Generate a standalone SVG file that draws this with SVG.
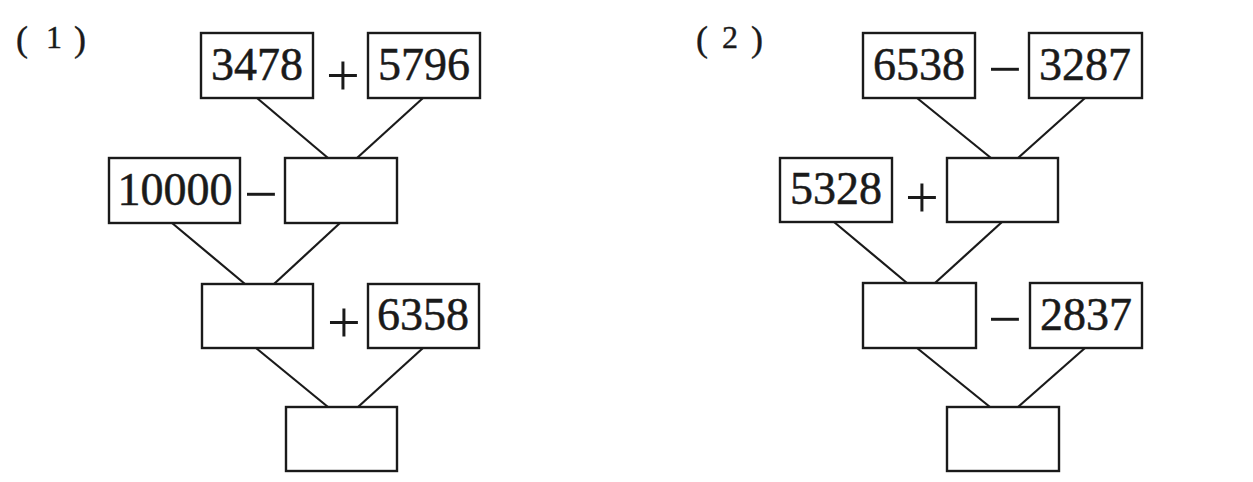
<svg xmlns="http://www.w3.org/2000/svg" width="1253" height="482" viewBox="0 0 1253 482">
<style>
.box{fill:none;stroke:#1a1a1a;stroke-width:2.4}
.num{font-family:"Liberation Serif","Times New Roman",serif;font-size:46px;fill:#1a1a1a;stroke:#1a1a1a;stroke-width:0.5;text-anchor:middle}
.op{font-family:"Liberation Serif","Times New Roman",serif;font-size:60px;fill:#1a1a1a;text-anchor:middle}
.lbl{font-family:"Liberation Serif","Times New Roman",serif;font-size:32px;fill:#1a1a1a;stroke:#1a1a1a;stroke-width:0.4}
.par{font-size:36px}
.con line{stroke:#1a1a1a;stroke-width:2.2}
</style>
<rect width="1253" height="482" fill="#fff"/>
<text class="lbl"><tspan class="par" x="16" y="51">(</tspan><tspan x="46" y="48">1</tspan><tspan class="par" x="74" y="51">)</tspan></text>
<text class="lbl"><tspan class="par" x="696" y="51">(</tspan><tspan x="722" y="48">2</tspan><tspan class="par" x="751" y="51">)</tspan></text>
<g id="connectors" class="con">
<line x1="257" y1="98" x2="328" y2="158"/>
<line x1="423" y1="98" x2="357" y2="158"/>
<line x1="172" y1="223" x2="245" y2="284"/>
<line x1="340" y1="223" x2="274" y2="284"/>
<line x1="256" y1="348" x2="328" y2="407"/>
<line x1="423" y1="348" x2="358" y2="407"/>
<line x1="917" y1="98" x2="991" y2="158"/>
<line x1="1085" y1="98" x2="1018" y2="158"/>
<line x1="834" y1="222" x2="907" y2="283"/>
<line x1="1002" y1="222" x2="935" y2="283"/>
<line x1="917" y1="348" x2="990" y2="407"/>
<line x1="1085" y1="348" x2="1018" y2="407"/>
</g>
<g id="n1a"><rect class="box" x="201" y="33" width="112" height="65"/><text class="num" x="257" y="80">3478</text></g>
<g id="op1a"><text class="op" x="343" y="95">+</text></g>
<g id="n1b"><rect class="box" x="368" y="33" width="112" height="65"/><text class="num" x="424" y="80">5796</text></g>
<g id="n1c"><rect class="box" x="109" y="158" width="131" height="65"/><text class="num" x="175" y="205">10000</text></g>
<g id="op1b"><text class="op" x="261" y="214">−</text></g>
<g id="n1d"><rect class="box" x="285" y="158" width="112" height="65"/></g>
<g id="n1e"><rect class="box" x="202" y="284" width="111" height="64"/></g>
<g id="op1c"><text class="op" x="344" y="342">+</text></g>
<g id="n1f"><rect class="box" x="368" y="284" width="111" height="64"/><text class="num" x="423" y="330">6358</text></g>
<g id="n1g"><rect class="box" x="286" y="407" width="111" height="64"/></g>
<g id="n2a"><rect class="box" x="863" y="33" width="112" height="65"/><text class="num" x="919" y="80">6538</text></g>
<g id="op2a"><text class="op" x="1005" y="89">−</text></g>
<g id="n2b"><rect class="box" x="1029" y="33" width="113" height="65"/><text class="num" x="1085" y="80">3287</text></g>
<g id="n2c"><rect class="box" x="780" y="158" width="112" height="64"/><text class="num" x="836" y="204">5328</text></g>
<g id="op2b"><text class="op" x="922" y="217">+</text></g>
<g id="n2d"><rect class="box" x="947" y="158" width="111" height="64"/></g>
<g id="n2e"><rect class="box" x="863" y="283" width="113" height="65"/></g>
<g id="op2c"><text class="op" x="1005" y="339">−</text></g>
<g id="n2f"><rect class="box" x="1030" y="283" width="112" height="65"/><text class="num" x="1086" y="330">2837</text></g>
<g id="n2g"><rect class="box" x="947" y="407" width="112" height="64"/></g>
</svg>
